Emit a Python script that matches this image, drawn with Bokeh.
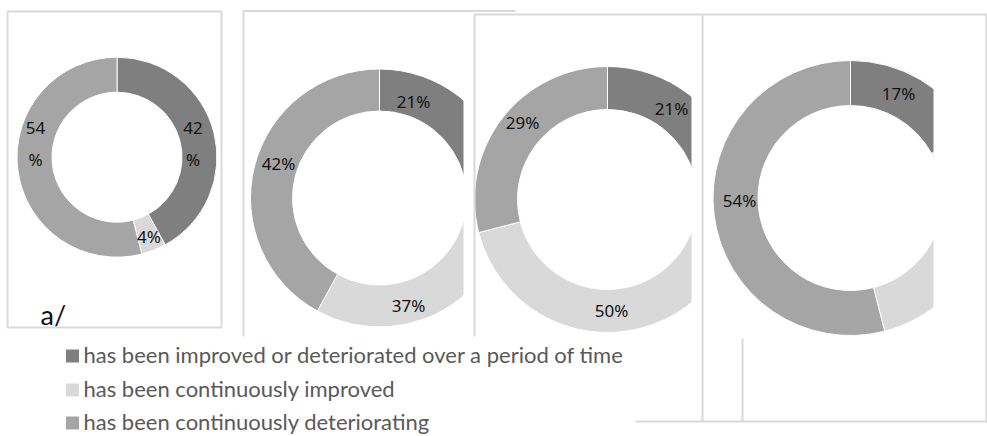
import math
from bokeh.plotting import figure
from bokeh.models import Range1d, ColumnDataSource
from bokeh.core.properties import value
from bokeh.embed import file_html
from bokeh.resources import INLINE

# ---------------- data ----------------
categories = [
    "has been improved or deteriorated over a period of time",
    "has been continuously improved",
    "has been continuously deteriorating",
]
panel_a = [42, 4, 54]
panel_b = [21, 37, 42]
panel_c = [21, 50, 29]
panel_d = [17, 29, 54]
panel_tag = "a/"

# ---------------- styles / layout ----------------
W, H = 987, 436
colors = ["#7f7f7f", "#d9d9d9", "#a5a5a5"]
frame_color = "#d9d9d9"
label_font = value("Noto Sans")
legend_font = value("Lato")


def Y(y_img):
    return H - y_img


p = figure(width=W, height=H, x_range=Range1d(0, W), y_range=Range1d(0, H),
           output_backend="svg", toolbar_location=None, min_border=0)
p.axis.visible = False
p.grid.visible = False
p.outline_line_color = None
p.background_fill_color = "white"
p.border_fill_color = "white"

panels = [
    dict(vals=panel_a, cx=116.5, cy=156.7, ro=100, ri=65, wrap=True,
         offs=[(76.0, -13.5), (32.0, 79.5), (-81.5, -13.5)], clip=None),
    dict(vals=panel_b, cx=379, cy=197.5, ro=129, ri=87, wrap=False,
         offs=[(34, -96.5), (29, 107.5), (-101, -34.5)], clip=(463, 12, 337)),
    dict(vals=panel_c, cx=607, cy=199, ro=133, ri=90, wrap=False,
         offs=[(64, -91), (4, 111), (-85, -77)], clip=(691, 15, 337)),
    dict(vals=panel_d, cx=850, cy=197.5, ro=137.5, ri=92.5, wrap=False,
         offs=[(48, -104.5), (106, 45), (-111, 2.5)], clip=(933, 15, 420)),
]

for pn in panels:
    vals = pn["vals"]
    total = float(sum(vals))
    cum = 0.0
    starts, ends = [], []
    for v in vals:
        starts.append(math.pi / 2 - 2 * math.pi * cum / total)
        cum += v
        ends.append(math.pi / 2 - 2 * math.pi * cum / total)
    src = ColumnDataSource(dict(x=[pn["cx"]] * len(vals), y=[Y(pn["cy"])] * len(vals),
                                start=starts, end=ends, color=colors))
    p.annular_wedge(x="x", y="y", inner_radius=pn["ri"], outer_radius=pn["ro"],
                    start_angle="start", end_angle="end", direction="clock",
                    fill_color="color", line_color="white", line_width=1, source=src)
    lx, ly, lt = [], [], []
    clip_x = pn["clip"][0] if pn["clip"] else W
    for v, (dx, dy) in zip(vals, pn["offs"]):
        x = pn["cx"] + dx
        if x + 12 > clip_x:
            continue  # label falls in the clipped-off part of the chart
        lx.append(x)
        ly.append(Y(pn["cy"] + dy))
        lt.append(f"{v}\n%" if (pn["wrap"] and v >= 10) else f"{v}%")
    p.text(x=lx, y=ly, text=lt, text_font=label_font, text_font_size="17px",
           text_align="center", text_baseline="middle", text_color="#111111",
           text_line_height=1.4)
    if pn["clip"]:
        cx0, ct, cb = pn["clip"]
        p.quad(left=cx0, right=W, top=Y(ct), bottom=Y(cb),
               fill_color="white", line_color=None)

# panel tag
p.text(x=[40], y=[Y(314)], text=[panel_tag], text_font=legend_font,
       text_font_size="27px", text_align="left", text_baseline="middle",
       text_color="#111111")

# frame lines
frames = [
    [(7, 11), (221, 11), (221, 327), (7, 327), (7, 11)],
    [(243, 336), (243, 10.5), (515, 10.5)],
    [(474, 336), (474, 14), (987, 14)],
    [(702, 14), (702, 421)],
    [(986, 14), (986, 421)],
    [(635, 421), (987, 421)],
    [(742, 338), (742, 421)],
]
p.multi_line(xs=[[a for a, b in f] for f in frames],
             ys=[[Y(b) for a, b in f] for f in frames],
             line_color=frame_color, line_width=2)

# legend
rows = [354, 388, 421]
p.rect(x=[72] * 3, y=[Y(r + 1.5) for r in rows], width=13, height=13,
       fill_color=colors, line_color=None)
p.text(x=[83] * 3, y=[Y(r) for r in rows], text=categories, text_font=legend_font,
       text_font_size="22px", text_align="left", text_baseline="middle",
       text_color="#595959")

open("out.html", "w").write(file_html(p, INLINE))
